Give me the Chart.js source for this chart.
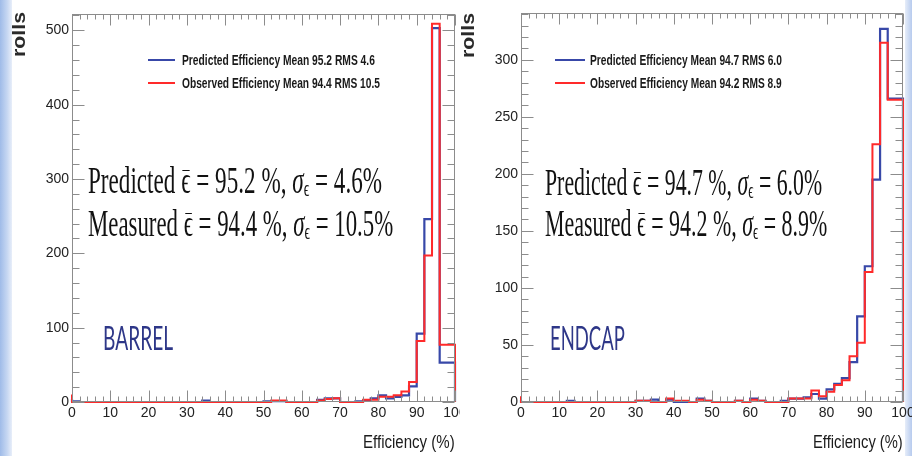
<!DOCTYPE html>
<html>
<head>
<meta charset="utf-8">
<script src="https://cdn.jsdelivr.net/npm/chart.js@4.4.1/dist/chart.umd.min.js"></script>
<style>
html,body{margin:0;padding:0;background:#fff;}
#wrap{position:relative;width:912px;height:456px;overflow:hidden;background:#fff;}
canvas{position:absolute;top:0;}
#c1{left:0;}
#c2{left:460px;}
.t{position:absolute;left:0;top:0;white-space:nowrap;transform-origin:0 0;line-height:1;}
.bl{display:inline-block;width:0;height:0;}
.leg{font-family:"Liberation Sans",Arial,sans-serif;font-size:15px;font-weight:bold;color:#1a1a1a;}
.big{font-family:"Liberation Serif","Times New Roman",serif;font-size:38px;color:#111;}
.big sub{font-size:0.6em;vertical-align:-0.12em;line-height:0;}
.big i{font-style:italic;}
.eb{position:relative;}
.eb::after{content:"";position:absolute;left:0.06em;right:0.04em;top:0.3em;border-top:0.05em solid #111;}
.det{font-family:Lato,"Open Sans",sans-serif;font-size:32px;color:#2e3788;}
.axt{font-family:"Liberation Sans",Arial,sans-serif;font-size:18px;color:#1c1c1c;}
.yt{font-family:"Liberation Sans",Arial,sans-serif;font-size:18px;font-weight:bold;color:#2a2a2a;}
.ll{position:absolute;height:2px;}
.strip{position:absolute;top:0;height:456px;}
</style>
</head>
<body>
<div id="wrap">
  <div class="strip" style="left:0;width:12px;background:linear-gradient(to right,#9fbbe8,#c6d7f2 60%,#e8eef9);"></div>
  <div class="strip" style="left:905px;width:7px;background:linear-gradient(to right,#e6edf9,#b7cbee);"></div>
  <canvas id="c1" width="460" height="456"></canvas>
  <canvas id="c2" width="452" height="456"></canvas>

  <!-- left panel texts -->
  <div class="t yt" id="yl1">rolls<span class="bl"></span></div>
  <div class="ll" style="left:148px;top:59px;width:27px;background:#3848a8;"></div>
  <div class="ll" style="left:148px;top:82px;width:27px;background:#ff2a2a;"></div>
  <div class="t leg" id="lg1a">Predicted Efficiency Mean 95.2 RMS 4.6<span class="bl"></span></div>
  <div class="t leg" id="lg1b">Observed Efficiency Mean 94.4 RMS 10.5<span class="bl"></span></div>
  <div class="t big" id="bg1a">Predicted <span class="eb">ϵ</span> = 95.2 %, <i>σ</i><sub>ϵ</sub> = 4.6%<span class="bl"></span></div>
  <div class="t big" id="bg1b">Measured <span class="eb">ϵ</span> = 94.4 %, <i>σ</i><sub>ϵ</sub> = 10.5%<span class="bl"></span></div>
  <div class="t det" id="dt1">BARREL<span class="bl"></span></div>
  <div class="t axt" id="xt1">Efficiency (%)<span class="bl"></span></div>

  <!-- right panel texts -->
  <div class="t yt" id="yl2">rolls<span class="bl"></span></div>
  <div class="ll" style="left:555px;top:59px;width:30px;background:#3848a8;"></div>
  <div class="ll" style="left:555px;top:82px;width:30px;background:#ff2a2a;"></div>
  <div class="t leg" id="lg2a">Predicted Efficiency Mean 94.7 RMS 6.0<span class="bl"></span></div>
  <div class="t leg" id="lg2b">Observed Efficiency Mean 94.2 RMS 8.9<span class="bl"></span></div>
  <div class="t big" id="bg2a">Predicted <span class="eb">ϵ</span> = 94.7 %, <i>σ</i><sub>ϵ</sub> = 6.0%<span class="bl"></span></div>
  <div class="t big" id="bg2b">Measured <span class="eb">ϵ</span> = 94.2 %, <i>σ</i><sub>ϵ</sub> = 8.9%<span class="bl"></span></div>
  <div class="t det" id="dt2">ENDCAP<span class="bl"></span></div>
  <div class="t axt" id="xt2">Efficiency (%)<span class="bl"></span></div>
</div>

<script>
// ---------------- data ----------------
const binEdges = [0,2,4,6,8,10,12,14,16,18,20,22,24,26,28,30,32,34,36,38,40,42,44,46,48,50,
                  52,54,56,58,60,62,64,66,68,70,72,74,76,78,80,82,84,86,88,90,92,94,96,98,100];

const xTickLabels = [0,10,20,30,40,50,60,70,80,90,100];
const barrelYTicks = [0,100,200,300,400,500];
const endcapYTicks = [0,50,100,150,200,250,300];

// BARREL (counts per 2% bin)
const barrelPredicted = [4,1,0,0,0,0,0,0,0,0, 0,0,0,0,0,0,0,0,2,0,
                         0,0,0,0,0,0,1,1,1,0, 0,0,0,3,5,5,0,0,1,2,
                         5,9,5,7,9,21,92,246,503,53];
const barrelObserved  = [10,0,0,0,0,0,0,0,0,0, 0,0,0,0,0,0,0,0,0,0,
                         0,0,0,0,0,0,0,2,2,0, 0,0,0,2,4,5,0,0,0,3,
                         3,7,7,9,14,27,82,197,509,77];

// ENDCAP (counts per 2% bin)
const endcapPredicted = [2,0,0,0,0,0,0,1,0,0, 0,0,0,0,0,0,1,1,2,0,
                         2,0,0,0,3,1,0,0,0,1, 0,3,1,0,0,1,3,3,4,7,
                         3,11,16,21,35,75,119,195,327,266];
const endcapObserved  = [5,0,0,0,0,0,0,0,0,0, 0,0,0,0,0,0,1,1,0,0,
                         3,1,1,0,2,1,0,0,0,1, 0,2,1,0,0,0,3,3,3,10,
                         5,9,15,19,40,52,114,226,315,265];

const BLUE = '#3848a8';
const RED = '#ff2a2a';

// ---------------- helpers ----------------
function steps(vals){
  const n = vals.length;
  const pts = [{x: binEdges[0], y: 0}];
  vals.forEach((v, i) => pts.push({x: binEdges[i], y: v}));
  pts.push({x: binEdges[n], y: vals[n-1]});
  pts.push({x: binEdges[n], y: 0});
  return pts;
}

const framePlugin = {
  id: 'frame',
  afterDatasetsDraw(chart, args, opts){
    const {ctx, chartArea: a, scales: {x, y}} = chart;
    ctx.save();
    ctx.strokeStyle = '#8c8c8c';
    ctx.lineWidth = 1;
    const L = Math.round(a.left) + 0.5, R = Math.round(a.right) - 0.5;
    const T = Math.round(a.top) + 0.5, B = Math.round(a.bottom) - 0.5;
    ctx.beginPath();
    for (let v = x.min; v <= x.max + 1e-9; v += opts.xMinor){
      const px = Math.round(x.getPixelForValue(v)) + 0.5;
      const major = xTickLabels.includes(v);
      const len = major ? 11 : 5;
      ctx.moveTo(px, B); ctx.lineTo(px, B - len);
      ctx.moveTo(px, T); ctx.lineTo(px, T + len);
    }
    for (let v = y.min; v <= y.max + 1e-9; v += opts.yMinor){
      const py = Math.round(y.getPixelForValue(v)) + 0.5;
      const major = opts.yTicks.includes(v);
      const len = major ? 12 : 7;
      ctx.moveTo(L, py); ctx.lineTo(L + len, py);
      ctx.moveTo(R, py); ctx.lineTo(R - len, py);
    }
    ctx.stroke();
    ctx.strokeRect(L, T, R - L, B - T);
    ctx.restore();
  }
};

function makeChart(id, pred, obs, yMax, yTicks, yMinor, pad, yWidth){
  return new Chart(document.getElementById(id), {
    type: 'line',
    data: {
      datasets: [
        {label: 'Predicted Efficiency', data: steps(pred), stepped: 'after', borderColor: BLUE,
         borderWidth: 2.2, pointRadius: 0, fill: false, clip: 6, order: 1},
        {label: 'Observed Efficiency', data: steps(obs), stepped: 'after', borderColor: RED,
         borderWidth: 2, pointRadius: 0, fill: false, clip: 6, order: 0}
      ]
    },
    options: {
      responsive: false,
      animation: false,
      devicePixelRatio: 1,
      layout: {padding: pad},
      plugins: {
        legend: {display: false},
        tooltip: {enabled: false},
        frame: {xMinor: 2, yMinor: yMinor, yTicks: yTicks}
      },
      scales: {
        x: {
          type: 'linear', min: 0, max: 100,
          grid: {display: false, drawTicks: false},
          border: {display: false},
          ticks: {font: {family: '"Liberation Sans", Arial, sans-serif', size: 14}, color: '#222',
                  padding: 3, maxRotation: 0, autoSkip: false, includeBounds: false},
          afterBuildTicks: s => { s.ticks = xTickLabels.map(v => ({value: v})); },
          afterFit: s => { s.height = 54; s.paddingLeft = 0; s.paddingRight = 0; }
        },
        y: {
          type: 'linear', min: 0, max: yMax,
          grid: {display: false, drawTicks: false},
          border: {display: false},
          ticks: {font: {family: '"Liberation Sans", Arial, sans-serif', size: 14}, color: '#222',
                  padding: 3, autoSkip: false, includeBounds: false},
          afterBuildTicks: s => { s.ticks = yTicks.map(v => ({value: v})); },
          afterFit: s => { s.width = yWidth; s.paddingTop = 0; s.paddingBottom = 0; }
        }
      }
    },
    plugins: [framePlugin]
  });
}

makeChart('c1', barrelPredicted, barrelObserved, 522, barrelYTicks, 20, {left: 0, top: 14, right: 5, bottom: 0}, 72);
makeChart('c2', endcapPredicted, endcapObserved, 341, endcapYTicks, 10, {left: 0, top: 13, right: 9, bottom: 0}, 61);

// ---------------- text placement ----------------
const wrap = document.getElementById('wrap');
function place(id, x, baseline, width){
  const el = document.getElementById(id);
  el.style.transform = 'none';
  el.style.left = x + 'px';
  el.style.top = '0px';
  const w = el.offsetWidth;
  const off = el.querySelector('.bl').getBoundingClientRect().top - wrap.getBoundingClientRect().top;
  el.style.top = (baseline - off) + 'px';
  el.style.transform = 'scaleX(' + (width / w) + ')';
}
function placeRot(id, baselineX, bottomY, length){
  const el = document.getElementById(id);
  el.style.transform = 'none';
  el.style.left = '0px'; el.style.top = '0px';
  const w = el.offsetWidth;
  const off = el.querySelector('.bl').getBoundingClientRect().top - wrap.getBoundingClientRect().top;
  el.style.left = (baselineX - off) + 'px';
  el.style.top = bottomY + 'px';
  el.style.transform = 'rotate(-90deg) scaleX(' + (length / w) + ')';
}
function layoutTexts(){
  placeRot('yl1', 25, 57, 45);
  place('lg1a', 182, 65, 193);
  place('lg1b', 182, 88, 198);
  place('bg1a', 88, 193, 294);
  place('bg1b', 88, 236, 305);
  place('dt1', 103, 350, 70);
  place('xt1', 363, 448, 92);

  placeRot('yl2', 474, 58, 45);
  place('lg2a', 590, 65, 192);
  place('lg2b', 590, 88, 192);
  place('bg2a', 545, 195, 277);
  place('bg2b', 545, 236, 282);
  place('dt2', 550, 350, 75);
  place('xt2', 813, 448, 90);
}
layoutTexts();
if (document.fonts && document.fonts.ready) document.fonts.ready.then(layoutTexts);
</script>
</body>
</html>
